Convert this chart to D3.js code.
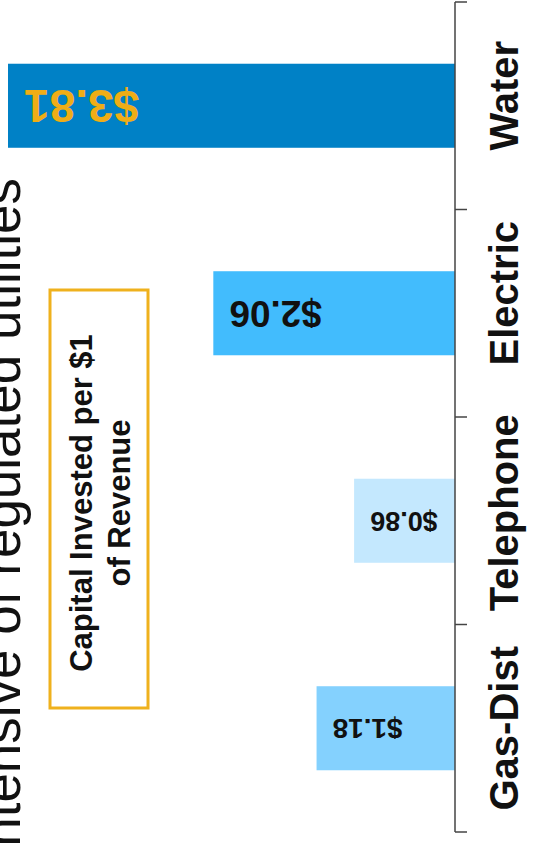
<!DOCTYPE html>
<html>
<head>
<meta charset="utf-8">
<script src="https://cdn.jsdelivr.net/npm/d3@7"></script>
<style>
  body { margin: 0; background: #fff; }
  svg { display: block; font-family: "Liberation Sans", Arial, sans-serif; }
</style>
</head>
<body>
<svg width="534" height="845"></svg>
<script>
// data (top to bottom)
var categories = ["Water", "Electric", "Telephone", "Gas-Dist"]
var capital_per_revenue = [3.81, 2.06, 0.86, 1.18]
var value_labels = ["$3.81", "$2.06", "$0.86", "$1.18"]
var title_text = "intensive of regulated utilities"
var note_lines = ["Capital Invested per $1", "of Revenue"]

// styling per bar
var bar_colors = ["#0081c6", "#42bcfd", "#c4e8fe", "#84d1fe"]
var label_colors = ["#efad16", "#111", "#111", "#111"]
var label_sizes = [46, 37, 27, 28]
var cat_shift = [-10, -20, -8, 0]

function draw_capital_chart() {
    var svg = d3.select("svg")
    var axis_x = 455

    var y = d3.scaleBand()
        .domain(categories)
        .range([2, 832])
        .paddingInner(0.595)
        .paddingOuter(0.2975)

    var x = d3.scaleLinear()
        .domain([0, 3.81])
        .range([axis_x, 8])

    var rows = categories.map(function (c, i) {
        return { cat: c, value: capital_per_revenue[i], label: value_labels[i], idx: i }
    })

    // bars grow leftwards from the axis
    svg.append("g").selectAll("rect")
        .data(rows)
        .enter().append("rect")
        .attr("x", function (d) { return x(d.value) })
        .attr("y", function (d) { return y(d.cat) })
        .attr("width", function (d) { return x(0) - x(d.value) })
        .attr("height", y.bandwidth())
        .attr("fill", function (d) { return bar_colors[d.idx] })

    // value labels are upside down inside the bars
    svg.append("g").selectAll("text")
        .data(rows)
        .enter().append("text")
        .attr("transform", function (d) {
            return "translate(" + (x(d.value) + 16) + "," + (y(d.cat) + y.bandwidth() / 2) + ") rotate(180)"
        })
        .attr("text-anchor", "end")
        .attr("dominant-baseline", "central")
        .attr("font-weight", "bold")
        .attr("font-size", function (d) { return label_sizes[d.idx] })
        .attr("fill", function (d) { return label_colors[d.idx] })
        .text(function (d) { return d.label })

    // category axis with ticks between the bands
    var step = y.step()
    var bounds = categories.map(function (c) { return y(c) - y.paddingOuter() * step })
    bounds.push(bounds[bounds.length - 1] + step)

    var axis = svg.append("g").attr("stroke", "#444").attr("stroke-width", 1.5)
    axis.append("line")
        .attr("x1", axis_x).attr("x2", axis_x)
        .attr("y1", bounds[0]).attr("y2", bounds[bounds.length - 1])
    axis.selectAll("line.tick")
        .data(bounds)
        .enter().append("line")
        .attr("class", "tick")
        .attr("x1", axis_x).attr("x2", axis_x + 12)
        .attr("y1", function (d) { return d })
        .attr("y2", function (d) { return d })

    svg.append("g").selectAll("text")
        .data(rows)
        .enter().append("text")
        .attr("transform", function (d) {
            return "translate(518," + (y(d.cat) + y.bandwidth() / 2 + cat_shift[d.idx]) + ") rotate(-90)"
        })
        .attr("text-anchor", "middle")
        .attr("font-weight", "bold")
        .attr("font-size", 40)
        .attr("fill", "#111")
        .text(function (d) { return d.cat })

    // title, cut off by the left edge
    svg.append("text")
        .attr("transform", "translate(20,178) rotate(-90)")
        .attr("text-anchor", "end")
        .attr("font-size", 53)
        .attr("fill", "#111")
        .text(title_text)

    // boxed note
    svg.append("rect")
        .attr("x", 50).attr("y", 290)
        .attr("width", 98).attr("height", 418)
        .attr("fill", "#fff")
        .attr("stroke", "#efb11d")
        .attr("stroke-width", 3)

    svg.append("g").selectAll("text")
        .data(note_lines)
        .enter().append("text")
        .attr("transform", function (d, i) {
            return "translate(" + (92 + i * 38) + ",503) rotate(-90)"
        })
        .attr("text-anchor", "middle")
        .attr("font-weight", "bold")
        .attr("font-size", 31)
        .attr("fill", "#111")
        .text(function (d) { return d })
}

draw_capital_chart()
</script>
</body>
</html>
